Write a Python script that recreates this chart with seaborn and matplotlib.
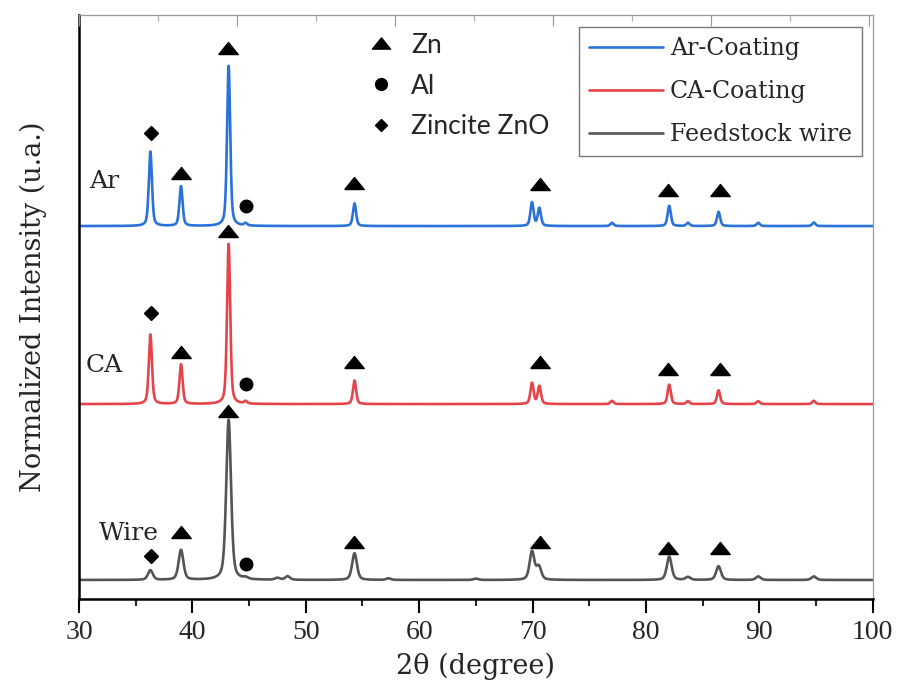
import numpy as np
import pandas as pd
import seaborn as sns
import matplotlib.pyplot as plt
from matplotlib.lines import Line2D

# ---- peak lists (2theta in degrees, normalized height) ----
ar_pos = [36.3, 39.0, 43.2, 44.7, 54.3, 69.95, 70.6, 77.0, 82.05, 83.7, 86.4, 89.9, 94.8]
ar_int = [0.46, 0.245, 0.99, 0.015, 0.14, 0.145, 0.11, 0.02, 0.125, 0.02, 0.088, 0.02, 0.022]

ca_pos = [36.3, 39.0, 43.2, 44.7, 54.3, 69.95, 70.6, 77.0, 82.05, 83.7, 86.4, 89.9, 94.8]
ca_int = [0.43, 0.245, 0.99, 0.015, 0.145, 0.13, 0.11, 0.02, 0.12, 0.018, 0.085, 0.018, 0.02]

wire_pos = [36.3, 39.0, 43.2, 44.7, 47.5, 48.4, 54.3, 57.3, 65.0, 69.95, 70.55, 82.05, 83.7, 86.4, 89.9, 94.8]
wire_int = [0.06, 0.185, 0.99, 0.01, 0.012, 0.022, 0.165, 0.01, 0.008, 0.175, 0.08, 0.145, 0.018, 0.085, 0.022, 0.022]

ar_fwhm = 0.33
ca_fwhm = 0.33
wire_fwhm = 0.5

samples = ["Ar-Coating", "CA-Coating", "Feedstock wire"]
offsets = [2.187, 1.087, 0.0]
colors = ["#2a72d8", "#e5444b", "#555555"]
side_labels = ["Ar", "CA", "Wire"]
side_label_x = [32.2, 32.2, 34.4]
side_label_y = [2.464, 1.328, 0.29]

# ---- phase markers (2theta, height in plot units) ----
zn_x = [39.0, 43.15, 54.24, 70.64, 81.93, 86.51]
zn_y = {
    "Ar-Coating": [2.514, 3.286, 2.452, 2.446, 2.409, 2.409],
    "CA-Coating": [1.408, 2.156, 1.347, 1.347, 1.303, 1.303],
    "Feedstock wire": [0.296, 1.044, 0.235, 0.235, 0.198, 0.198],
}
al_x = [44.72]
al_y = {"Ar-Coating": [2.310], "CA-Coating": [1.211], "Feedstock wire": [0.099]}
zno_x = [36.35]
zno_y = {"Ar-Coating": [2.761], "CA-Coating": [1.649], "Feedstock wire": [0.148]}

phase_names = ["Zn", "Al", "Zincite ZnO"]

two_theta = np.arange(30.0, 100.0001, 0.02)


def pattern(pos, inten, fwhm, eta=0.45):
    y = np.zeros_like(two_theta)
    g_sigma = fwhm / 2.3548
    for p, h in zip(pos, inten):
        d = two_theta - p
        lor = 1.0 / (1.0 + (2 * d / fwhm) ** 2)
        gau = np.exp(-0.5 * (d / g_sigma) ** 2)
        y += h * (eta * lor + (1 - eta) * gau)
    return y


profiles = [
    pattern(ar_pos, ar_int, ar_fwhm),
    pattern(ca_pos, ca_int, ca_fwhm),
    pattern(wire_pos, wire_int, wire_fwhm),
]

frames = []
for name, prof, off in zip(samples, profiles, offsets):
    frames.append(pd.DataFrame({"two_theta": two_theta,
                                "intensity": prof + off,
                                "sample": name}))
df = pd.concat(frames, ignore_index=True)

sns.set_style("white")
serif = ["DejaVu Serif"]
num_font = ["Liberation Serif", "DejaVu Serif"]
plt.rcParams["font.family"] = serif

fig = plt.figure(figsize=(8.97, 6.90), dpi=100)
ax = fig.add_axes([0.088, 0.132, 0.885, 0.846])

sns.lineplot(data=df, x="two_theta", y="intensity", hue="sample",
             hue_order=samples, palette=colors, estimator=None, sort=False,
             linewidth=1.9, ax=ax, legend=False)

# phase markers
tri = [(-1.0, -0.62), (1.0, -0.62), (0.0, 0.62), (-1.0, -0.62)]
for name in samples:
    ax.plot(zn_x, zn_y[name], linestyle="none", marker=tri, markersize=14,
            color="black")
    ax.plot(al_x, al_y[name], linestyle="none", marker="o", markersize=9,
            color="black")
    ax.plot(zno_x, zno_y[name], linestyle="none", marker="D", markersize=7,
            color="black")

for lab, lx, ly in zip(side_labels, side_label_x, side_label_y):
    ax.text(lx, ly, lab, fontsize=18, ha="center", va="center")

ax.set_xlim(30, 100)
ax.set_ylim(-0.117, 3.49)
ax.set_xticks(np.arange(30, 101, 10))
ax.set_xticks(np.arange(35, 100, 10), minor=True)
ax.set_yticks([])
ax.tick_params(axis="x", which="major", direction="out", length=10, width=1.5,
               labelsize=20, pad=5, color="black", bottom=True)
ax.tick_params(axis="x", which="minor", direction="out", length=5, width=1.5,
               bottom=True)
for t in ax.get_xticklabels():
    t.set_fontfamily(num_font)
ax.set_xlabel("2θ (degree)", fontsize=19.5, labelpad=6)
ax.set_ylabel("Normalized Intensity (u.a.)", fontsize=19.5, labelpad=23)

for side in ["left", "bottom"]:
    ax.spines[side].set_color("black")
    ax.spines[side].set_linewidth(1.8)
for side in ["top", "right"]:
    ax.spines[side].set_color("#9a9a9a")
    ax.spines[side].set_linewidth(0.9)

# sample legend
line_handles = [Line2D([0], [0], color=c, linewidth=1.9) for c in colors]
leg1 = ax.legend(line_handles, samples, loc="upper right",
                 bbox_to_anchor=(0.986, 0.979), fontsize=17, frameon=True,
                 fancybox=False, edgecolor="#777777", framealpha=1,
                 handlelength=3.1, handletextpad=0.3, borderpad=0.42,
                 labelspacing=0.85, borderaxespad=0)
leg1.get_frame().set_linewidth(1.0)
ax.add_artist(leg1)

# phase legend
phase_handles = [
    Line2D([0], [0], linestyle="none", marker=tri, markersize=13, color="black"),
    Line2D([0], [0], linestyle="none", marker="o", markersize=8.5, color="black"),
    Line2D([0], [0], linestyle="none", marker="D", markersize=6, color="black"),
]
leg2 = ax.legend(phase_handles, phase_names, loc="upper left",
                 bbox_to_anchor=(0.362, 0.97), frameon=False,
                 prop={"family": ["Lato", "DejaVu Sans"], "size": 19},
                 handlelength=1.1, handletextpad=0.6, labelspacing=0.6,
                 borderaxespad=0, borderpad=0)

# light inward ticks along the top frame
top = ax.twiny()
top.set_xlim(0, 794 / 79)
top.set_xticks(np.arange(0, 11, 2))
top.set_xticks(np.arange(1, 11, 2), minor=True)
top.set_xticklabels([])
top.tick_params(axis="x", which="major", direction="in", length=8, width=0.9,
                color="#9a9a9a", top=True, bottom=False)
top.tick_params(axis="x", which="minor", direction="in", length=4, width=0.9,
                color="#b0b0b0", top=True, bottom=False)
for s in top.spines.values():
    s.set_visible(False)
top.set_yticks([])

fig.savefig("out.png", dpi=100)
